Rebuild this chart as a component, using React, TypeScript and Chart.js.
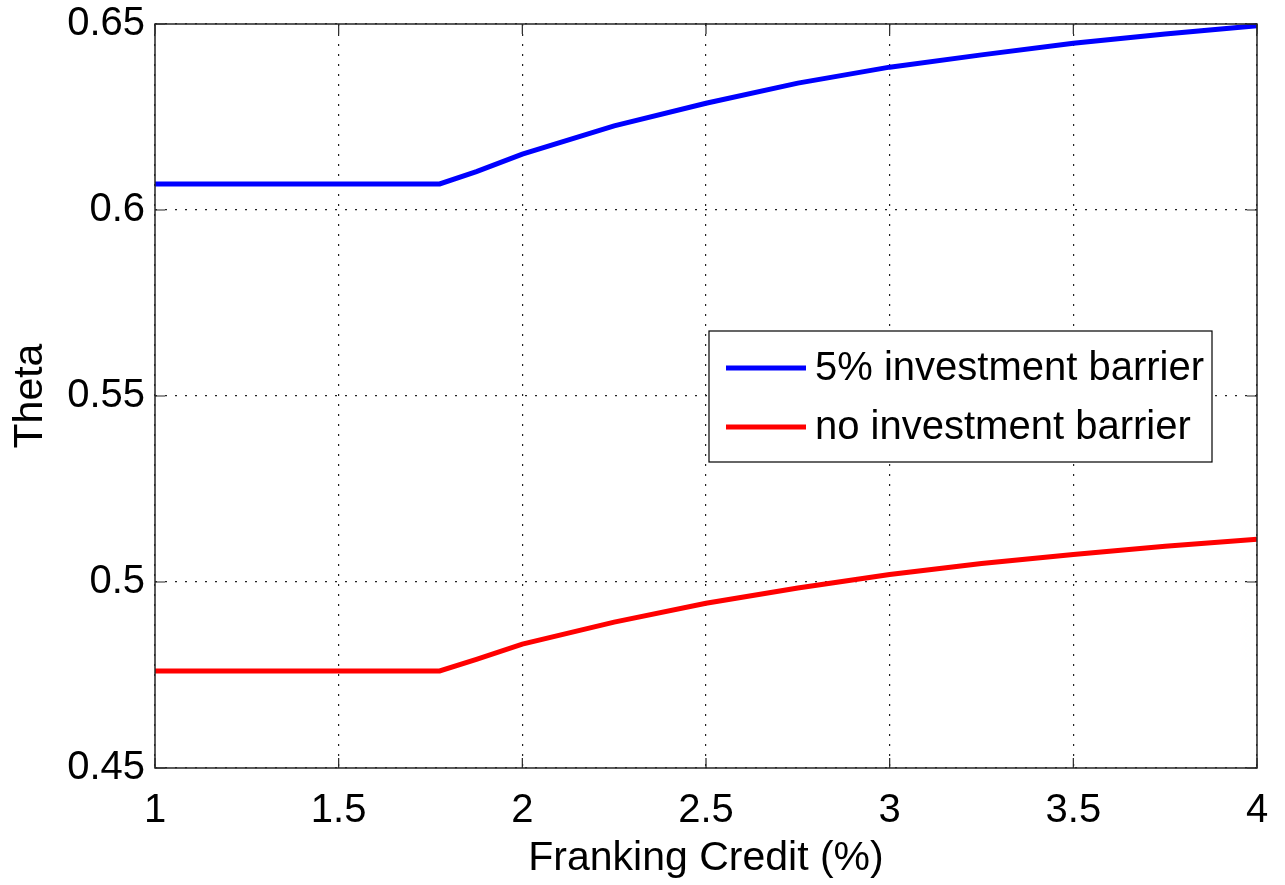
import React, { useEffect, useRef } from "react";
import { Chart, registerables } from "chart.js";

Chart.register(...registerables);

// Franking credit (%) sample positions
const frankingCredit = [1, 1.775, 1.875, 2.0, 2.25, 2.5, 2.75, 3.0, 3.25, 3.5, 3.75, 4.0];
// Theta with a 5% investment barrier
const thetaBarrier = [0.607, 0.607, 0.6103, 0.615, 0.6226, 0.6287, 0.6341, 0.6384, 0.6417, 0.6448, 0.6473, 0.6495];
// Theta with no investment barrier
const thetaNoBarrier = [0.4761, 0.4761, 0.4792, 0.4833, 0.4892, 0.4943, 0.4984, 0.502, 0.505, 0.5074, 0.5096, 0.5115];

const seriesLabels = ["5% investment barrier", "no investment barrier"];
const xTickLabels = ["1", "1.5", "2", "2.5", "3", "3.5", "4"];
const yTickLabels = ["0.45", "0.5", "0.55", "0.6", "0.65"];

const FONT = "'Liberation Sans', Arial, sans-serif";
const FRAME = "#262626";

// Box around the axes plus MATLAB-style inward tick marks
const framePlugin = {
  id: "frame",
  afterDatasetsDraw(chart: any) {
    const { ctx, chartArea: a, scales } = chart;
    const len = 10;
    ctx.save();
    ctx.strokeStyle = FRAME;
    ctx.lineWidth = 1.5;
    ctx.setLineDash([]);
    ctx.strokeRect(a.left, a.top, a.right - a.left, a.bottom - a.top);
    ctx.lineWidth = 1.2;
    ctx.beginPath();
    scales.x.ticks.forEach((t: any) => {
      const px = scales.x.getPixelForValue(t.value);
      ctx.moveTo(px, a.bottom);
      ctx.lineTo(px, a.bottom - len);
      ctx.moveTo(px, a.top);
      ctx.lineTo(px, a.top + len);
    });
    scales.y.ticks.forEach((t: any) => {
      const py = scales.y.getPixelForValue(t.value);
      ctx.moveTo(a.left, py);
      ctx.lineTo(a.left + len, py);
      ctx.moveTo(a.right, py);
      ctx.lineTo(a.right - len, py);
    });
    ctx.stroke();
    ctx.restore();
  },
};

// Legend box drawn inside the plot area
const legendPlugin = {
  id: "insideLegend",
  afterDraw(chart: any) {
    const { ctx, chartArea: a } = chart;
    const left = a.left + 554;
    const top = a.top + 307;
    const width = 503;
    const height = 131;
    ctx.save();
    ctx.fillStyle = "#ffffff";
    ctx.fillRect(left, top, width, height);
    ctx.strokeStyle = "#000000";
    ctx.lineWidth = 1.2;
    ctx.setLineDash([]);
    ctx.strokeRect(left, top, width, height);
    ctx.font = `40px ${FONT}`;
    ctx.textBaseline = "middle";
    ctx.textAlign = "left";
    chart.data.datasets.forEach((ds: any, i: number) => {
      const y = top + 37 + i * 59;
      ctx.strokeStyle = ds.borderColor;
      ctx.lineWidth = 5;
      ctx.beginPath();
      ctx.moveTo(left + 17, y);
      ctx.lineTo(left + 97, y);
      ctx.stroke();
      ctx.fillStyle = "#000000";
      ctx.fillText(ds.label, left + 106, y + 1);
    });
    ctx.restore();
  },
};

export default function App() {
  const canvasRef = useRef<HTMLCanvasElement | null>(null);

  useEffect(() => {
    if (!canvasRef.current) return;
    const toPoints = (ys: number[]) => frankingCredit.map((x, i) => ({ x, y: ys[i] }));
    const chart = new Chart(canvasRef.current, {
      type: "line",
      data: {
        datasets: [
          {
            label: seriesLabels[0],
            data: toPoints(thetaBarrier),
            borderColor: "#0000ff",
            borderWidth: 5,
            pointRadius: 0,
            tension: 0,
            clip: false,
          },
          {
            label: seriesLabels[1],
            data: toPoints(thetaNoBarrier),
            borderColor: "#ff0000",
            borderWidth: 5,
            pointRadius: 0,
            tension: 0,
            clip: false,
          },
        ],
      },
      plugins: [framePlugin, legendPlugin],
      options: {
        animation: false,
        responsive: false,
        maintainAspectRatio: false,
        layout: { padding: { top: 24, right: 28, left: 0, bottom: 0 } },
        plugins: {
          legend: { display: false },
          tooltip: { enabled: false },
        },
        scales: {
          x: {
            type: "linear",
            min: 1,
            max: 4,
            afterFit: (s: any) => {
              s.height = 117;
              s.paddingLeft = 0;
              s.paddingRight = 0;
            },
            ticks: {
              stepSize: 0.5,
              color: "#000",
              padding: 19,
              font: { family: FONT, size: 40 },
              callback: (_v: any, i: number) => xTickLabels[i],
              maxRotation: 0,
            },
            grid: { color: "#222", lineWidth: 1.2, drawTicks: false },
            border: { display: false, dash: [2, 8] },
            title: {
              display: true,
              text: "Franking Credit (%)",
              color: "#000",
              font: { family: FONT, size: 41 },
              padding: { top: 0, bottom: 2 },
            },
          },
          y: {
            type: "linear",
            min: 0.45,
            max: 0.65,
            afterFit: (s: any) => {
              s.width = 155;
              s.paddingTop = 0;
              s.paddingBottom = 0;
            },
            ticks: {
              stepSize: 0.05,
              color: "#000",
              padding: 10,
              font: { family: FONT, size: 40 },
              callback: (_v: any, i: number) => yTickLabels[i],
            },
            grid: { color: "#222", lineWidth: 1.2, drawTicks: false },
            border: { display: false, dash: [2, 8] },
            title: {
              display: true,
              text: "Theta",
              color: "#000",
              font: { family: FONT, size: 41 },
              padding: { top: 6, bottom: 0 },
            },
          },
        },
      },
    });
    return () => chart.destroy();
  }, []);

  return (
    <div style={{ position: "fixed", left: 0, top: 0, width: 1285, height: 885, background: "#fff" }}>
      <canvas ref={canvasRef} width={1285} height={885} style={{ display: "block" }} />
    </div>
  );
}
